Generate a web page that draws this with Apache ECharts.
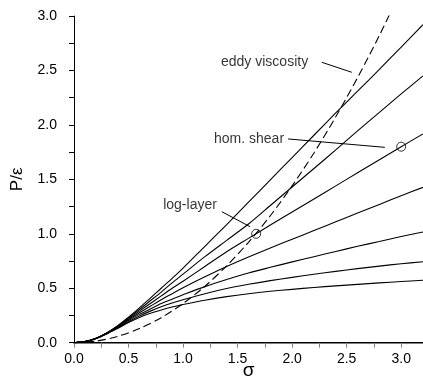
<!DOCTYPE html>
<html><head><meta charset="utf-8">
<script src="https://cdn.jsdelivr.net/npm/echarts@6/dist/echarts.min.js"></script>
<style>html,body{margin:0;padding:0;background:#fff}#c{width:423px;height:380px}</style>
</head><body><div id="c"></div>
<script>
// sigma values for the solid model curves
const sigma = [0,0.1,0.2,0.3,0.4,0.5,0.6,0.7,0.8,0.9,1.0,1.2,1.4,1.6,1.8,2.0,2.2,2.4,2.6,2.8,3.0,3.2];
const curve1 = [0,0.010,0.040,0.090,0.155,0.235,0.320,0.410,0.500,0.590,0.685,0.885,1.085,1.290,1.495,1.700,1.905,2.110,2.310,2.510,2.715,2.920];
const curve2 = [0,0.010,0.040,0.089,0.152,0.228,0.305,0.385,0.465,0.550,0.630,0.790,0.940,1.090,1.260,1.430,1.600,1.770,1.945,2.115,2.285,2.450];
const curve3 = [0,0.010,0.039,0.087,0.148,0.220,0.290,0.360,0.430,0.500,0.565,0.700,0.835,0.958,1.080,1.200,1.320,1.440,1.560,1.680,1.800,1.917];
const curve4 = [0,0.010,0.039,0.086,0.145,0.212,0.275,0.335,0.395,0.450,0.505,0.605,0.700,0.787,0.870,0.950,1.030,1.110,1.190,1.270,1.350,1.427];
const curve5 = [0,0.010,0.038,0.084,0.141,0.203,0.260,0.310,0.360,0.400,0.440,0.515,0.580,0.640,0.692,0.742,0.790,0.838,0.885,0.930,0.975,1.017];
const curve6 = [0,0.010,0.038,0.082,0.136,0.193,0.245,0.290,0.330,0.365,0.395,0.450,0.497,0.536,0.570,0.600,0.628,0.655,0.680,0.703,0.725,0.744];
const curve7 = [0,0.010,0.037,0.080,0.131,0.185,0.232,0.270,0.300,0.327,0.350,0.390,0.423,0.450,0.472,0.490,0.507,0.522,0.536,0.549,0.562,0.573];
// eddy-viscosity (dashed) curve
const sigmaEddy = [0,0.2,0.4,0.6,0.8,1.0,1.2,1.4,1.6,1.8,2.0,2.2,2.4,2.6,2.8,3.0];
const eddy      = [0,0.014,0.058,0.130,0.230,0.360,0.518,0.706,0.922,1.166,1.440,1.742,2.074,2.434,2.822,3.240];
// marked points
const markSigma = [1.67, 3.0];
const markP     = [1.0, 1.8];
// annotations
const labels = ['eddy viscosity','hom. shear','log-layer'];
const labelAt = [[2.147,2.575],[1.926,1.871],[1.31,1.26]];
const pointers = [
  [[2.272,2.575],[2.547,2.483]],
  [[1.963,1.871],[2.850,1.794]],
  [[1.355,1.203],[1.615,1.065]]
];

const zip = (xs, ys) => xs.map((x,i)=>[x, ys[i]]);
const font = 'Liberation Sans, Arial, sans-serif';
const solid = [curve1,curve2,curve3,curve4,curve5,curve6,curve7];

const series = [];
solid.forEach(c => series.push({
  type:'line', data: zip(sigma, c), smooth: 0.3, showSymbol:false, silent:true,
  lineStyle:{color:'#000', width:1.1}
}));
series.push({
  type:'line', data: zip(sigmaEddy, eddy), smooth: 0.3, showSymbol:false, silent:true,
  lineStyle:{color:'#000', width:1.1, type:[8,4]}
});
pointers.forEach(p => series.push({
  type:'line', data:p, showSymbol:false, silent:true, lineStyle:{color:'#000', width:1}
}));
series.push({
  type:'scatter', data: zip(markSigma, markP), symbol:'circle', symbolSize:9,
  itemStyle:{color:'rgba(0,0,0,0)', borderColor:'#000', borderWidth:1}
});
series.push({
  type:'scatter', data: labelAt.map((p,i)=>({value:p, name:labels[i]})), symbolSize:0,
  label:{show:true, position:'left', distance:0, formatter: d=>d.name, color:'#000', fontSize:14, fontFamily:font}
});

const chart = echarts.init(document.getElementById('c'), null, {renderer:'canvas'});
chart.setOption({
  animation:false,
  grid:{left:74, top:16, right:0, bottom:37.3, outerBoundsMode:'none', containLabel:false},
  xAxis:[{
    type:'value', min:0, max:3.2, interval:0.25,
    name:'σ', nameLocation:'middle', nameGap:19, nameMoveOverlap:false,
    nameTextStyle:{color:'#000', fontSize:19, fontFamily:font},
    axisLine:{show:true, onZero:false, lineStyle:{color:'#808080', width:2}},
    axisTick:{show:true, length:5, lineStyle:{color:'#808080', width:1}},
    axisLabel:{color:'#000', fontSize:14, fontFamily:font, margin:9, showMaxLabel:false,
      formatter: v => (Math.abs(v*2 - Math.round(v*2)) < 1e-6 && v <= 3.0001) ? v.toFixed(1) : ''},
    splitLine:{show:false}
  },{
    type:'value', position:'top', min:0, max:3.2,
    axisLine:{show:true, lineStyle:{color:'#000', width:1}},
    axisTick:{show:false}, axisLabel:{show:false}, splitLine:{show:false}
  }],
  yAxis:{
    type:'value', min:0, max:3.0, interval:0.25,
    name:'P/ε', nameLocation:'middle', nameGap:48, nameRotate:90, nameMoveOverlap:false,
    nameTextStyle:{color:'#000', fontSize:17, fontFamily:font},
    axisLine:{show:true, lineStyle:{color:'#000', width:1}},
    axisTick:{show:true, length:5, lineStyle:{color:'#000', width:1}},
    axisLabel:{color:'#000', fontSize:14, fontFamily:font, margin:17,
      formatter: v => (Math.abs(v*2 - Math.round(v*2)) < 1e-6) ? v.toFixed(1) : ''},
    splitLine:{show:false}
  },
  series: series
});
</script></body></html>
